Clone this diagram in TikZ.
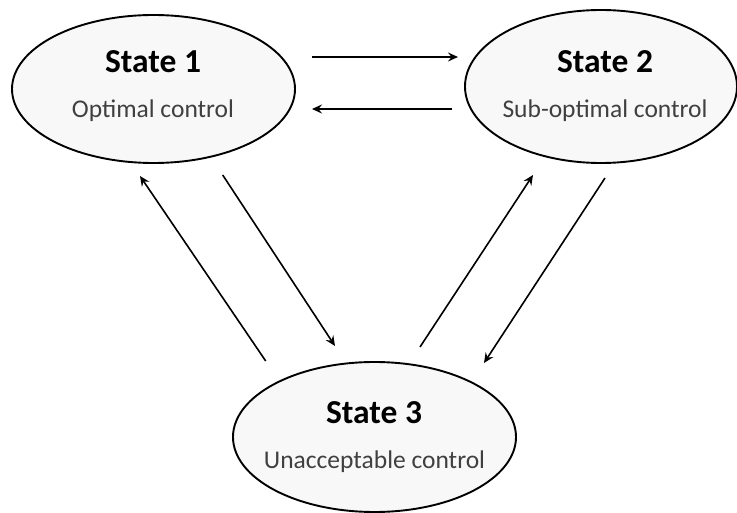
\documentclass[tikz,border=0pt]{standalone}
\usepackage{fontspec}
\setmainfont{Carlito}
\usetikzlibrary{shapes.geometric,arrows.meta}
\definecolor{statefill}{HTML}{F8F8F8}
\definecolor{subgray}{HTML}{404040}
\tikzset{
  statebox/.style={draw=black, line width=1.9pt, fill=statefill, ellipse, inner sep=0pt},
  titletext/.style={anchor=base, font=\fontsize{33.5}{38}\selectfont\bfseries, text=black, inner sep=0pt},
  subtext/.style={anchor=base, font=\fontsize{25.5}{30}\selectfont, text=subgray, inner sep=0pt},
  conn/.style={draw=black, line width=1.6pt, -{Stealth[length=10pt,width=9pt,inset=3.5pt]}}
}
\begin{document}
\begin{tikzpicture}[x=1pt,y=-1pt]
\useasboundingbox (0,0) rectangle (737,513);
\node[statebox, minimum width=283pt, minimum height=148pt] (s1) at (153.5,89) {};
\node[statebox, minimum width=272pt, minimum height=153pt] (s2) at (601,86.5) {};
\node[statebox, minimum width=283pt, minimum height=150pt] (s3) at (374.5,437) {};
\node[titletext] (t1) at (153,73) {State 1};
\node[subtext] (u1) at (153,118) {Optimal control};
\node[titletext] (t2) at (605,73) {State 2};
\node[subtext] (u2) at (605,118) {Sub-optimal control};
\node[titletext] (t3) at (374,423) {State 3};
\node[subtext] (u3) at (374.5,468) {Unacceptable control};
% connector ends
\coordinate (a12s) at (312,57);
\coordinate (a12e) at (458,57);
\coordinate (a21s) at (452,109);
\coordinate (a21e) at (312,109);
\coordinate (a31s) at (265.7,361);
\coordinate (a31e) at (140,176);
\coordinate (a13s) at (222.7,175);
\coordinate (a13e) at (335,346);
\coordinate (a32s) at (420,347);
\coordinate (a32e) at (533,175);
\coordinate (a23s) at (605,178);
\coordinate (a23e) at (484,363);
\draw[conn] (a12s) -- (a12e);
\draw[conn] (a21s) -- (a21e);
\draw[conn] (a31s) -- (a31e);
\draw[conn] (a13s) -- (a13e);
\draw[conn] (a32s) -- (a32e);
\draw[conn] (a23s) -- (a23e);
\end{tikzpicture}
\end{document}
